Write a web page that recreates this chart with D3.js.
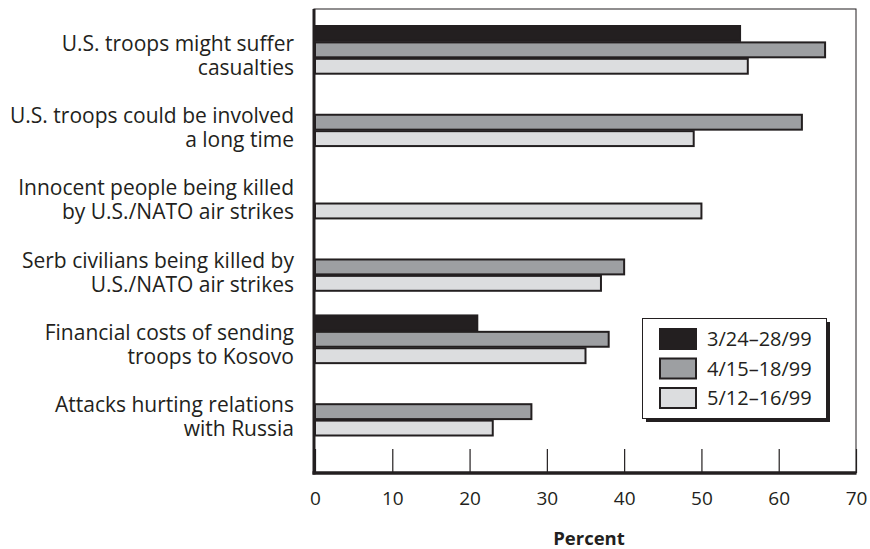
<!DOCTYPE html>
<html><head><meta charset="utf-8">
<script src="https://cdn.jsdelivr.net/npm/d3@7"></script>
<style>body{margin:0;background:#fff}svg{display:block}text{font-family:"Open Sans",sans-serif;fill:#231f20}</style>
</head><body><svg id="c" width="870" height="549"></svg>
<script>
const categories = [
  ["U.S. troops might suffer","casualties"],
  ["U.S. troops could be involved","a long time"],
  ["Innocent people being killed","by U.S./NATO air strikes"],
  ["Serb civilians being killed by","U.S./NATO air strikes"],
  ["Financial costs of sending","troops to Kosovo"],
  ["Attacks hurting relations","with Russia"]
];
const seriesNames = ["3/24\u201328/99","4/15\u201318/99","5/12\u201316/99"];
const s1 = [55, null, null, null, 21, null];
const s2 = [66, 63, null, 40, 38, 28];
const s3 = [56, 49, 50, 37, 35, 23];
const ticks = [0,10,20,30,40,50,60,70];
const colors = ["#231f20","#9d9fa2","#dcdddf"];
const stroke = "#231f20";

const svg = d3.select("#c");
const L = 315, R = 856, T = 9, B = 473;
const x = d3.scaleLinear().domain([0,70]).range([L, R]);
const y = d3.scaleBand().domain(d3.range(categories.length)).range([25, 436]).paddingInner(0.32).paddingOuter(0);
const sub = d3.scaleBand().domain([0,1,2]).range([0, y.bandwidth()]);

// frame
svg.append("rect").attr("x",L-1).attr("y",T).attr("width",R-L+1).attr("height",B-T)
  .attr("fill","none").attr("stroke","#231f20").attr("stroke-width",1);

const series = [s1,s2,s3];
series.forEach((vals,si)=>{
  svg.append("g").selectAll("rect").data(vals.map((v,i)=>({v,i})).filter(d=>d.v!=null)).join("rect")
    .attr("x", x(0)).attr("y", d=>y(d.i)+sub(si)+1)
    .attr("width", d=>x(d.v)-x(0)).attr("height", sub.bandwidth()-1.5)
    .attr("fill", colors[si]).attr("stroke", stroke).attr("stroke-width", 2);
});

// x axis ticks (inside) and labels
const xa = svg.append("g").attr("transform",`translate(0,${B})`)
  .call(d3.axisBottom(x).tickValues(ticks).tickSize(-24).tickPadding(19).tickFormat(d3.format("d")));
xa.select(".domain").remove();
xa.selectAll(".tick line").attr("stroke","#231f20").attr("stroke-width",1.2);
xa.selectAll(".tick text").style("font-size","19px").style("font-family","'Open Sans',sans-serif").attr("fill","#231f20");

// thick left and bottom axis lines
svg.append("line").attr("x1",L-1).attr("x2",L-1).attr("y1",T).attr("y2",B+1.5).attr("stroke","#231f20").attr("stroke-width",3);
svg.append("line").attr("x1",L-2.5).attr("x2",R+0.5).attr("y1",B).attr("y2",B).attr("stroke","#231f20").attr("stroke-width",3.5);

// category labels
categories.forEach((lines,i)=>{
  const c = y(i) + y.bandwidth()/2;
  lines.forEach((ln,j)=>{
    svg.append("text").attr("text-anchor","end").style("font-size","21px")
      .attr("x",294).attr("y", c + 1 + j*24).text(ln);
  });
});

// x title
svg.append("text").attr("x",589).attr("y",545).attr("text-anchor","middle")
  .style("font-size","18.5px").style("font-weight","bold").text("Percent");

// legend
const lg = svg.append("g");
lg.append("rect").attr("x",646).attr("y",322).attr("width",184).attr("height",100).attr("fill","#231f20");
lg.append("rect").attr("x",642.5).attr("y",318.5).attr("width",184).attr("height",100).attr("fill","#fff").attr("stroke","#231f20").attr("stroke-width",1);
seriesNames.forEach((n,i)=>{
  const yy = 328 + i*29.5;
  lg.append("rect").attr("x",660).attr("y",yy+1).attr("width",36).attr("height",20)
    .attr("fill",colors[i]).attr("stroke",stroke).attr("stroke-width",2);
  lg.append("text").attr("x",707).attr("y",yy+18).style("font-size","20px").text(n);
});
</script></body></html>
